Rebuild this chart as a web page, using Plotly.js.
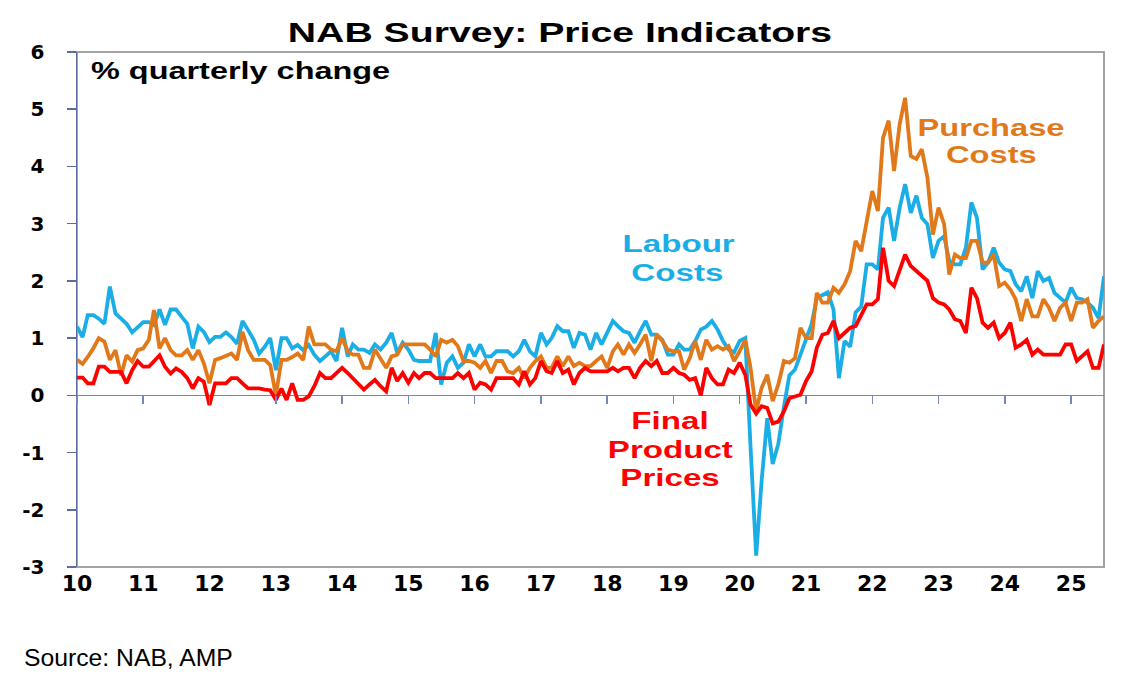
<!DOCTYPE html>
<html>
<head>
<meta charset="utf-8">
<script src="https://cdn.plot.ly/plotly-3.0.1.min.js"></script>
<style>
html, body { margin: 0; padding: 0; background: #ffffff; }
#chart { width: 1141px; height: 682px; }
</style>
</head>
<body>
<div id="chart"></div>
<script>
// ---- Data (monthly, Jan 2010 .. Jul 2025), % quarterly change ----
const startYear = 2010;
const startMonth = 1;

const labourCosts = [
  1.2, 1.02, 1.4, 1.4, 1.34, 1.25, 1.9, 1.43, 1.34, 1.25, 1.1, 1.19,
  1.28, 1.28, 1.23, 1.5, 1.23, 1.5, 1.5, 1.37, 1.25, 0.82, 1.2, 1.11,
  0.93, 1.02, 1.02, 1.1, 1.02, 0.9, 1.3, 1.14, 0.97, 0.73, 0.85, 1.0,
  0.44, 1.0, 1.0, 0.82, 0.88, 0.79, 0.88, 0.71, 0.6, 0.68, 0.77, 0.6,
  1.18, 0.68, 0.89, 0.8, 0.8, 0.74, 0.89, 0.8, 0.92, 1.09, 0.74, 0.92,
  0.8, 0.62, 0.6, 0.6, 0.6, 1.09, 0.19, 0.57, 0.68, 0.48, 0.57, 0.89,
  0.68, 0.89, 0.68, 0.68, 0.77, 0.77, 0.77, 0.68, 0.77, 0.97, 0.77, 0.68,
  1.09, 0.89, 1.0, 1.21, 1.12, 1.12, 0.83, 1.09, 1.06, 0.8, 1.09, 0.89,
  1.09, 1.3, 1.21, 1.12, 1.09, 0.92, 1.12, 1.3, 1.06, 1.06, 0.97, 0.71,
  0.71, 0.89, 0.8, 0.8, 0.95, 1.15, 1.2, 1.3, 1.15, 0.95, 0.8, 0.75,
  0.95, 1.0, -0.9, -2.8, -1.5, -0.4, -1.2, -0.85, -0.2, 0.35, 0.45, 0.7,
  0.95, 1.25, 1.7, 1.75, 1.8, 1.5, 0.3, 0.95, 0.85, 1.45, 1.55, 2.29,
  2.29, 2.2, 3.1, 3.28, 2.7, 3.28, 3.69, 3.19, 3.49, 3.1, 2.99, 2.4,
  2.7, 2.78, 2.35, 2.29, 2.29, 2.58, 3.37, 3.1, 2.2, 2.32, 2.58, 2.32,
  2.2, 2.17, 1.94, 1.82, 2.08, 1.7, 2.17, 2.0, 2.05, 1.79, 1.7, 1.62,
  1.88, 1.7, 1.68, 1.62, 1.53, 1.35, 2.08
];

const purchaseCosts = [
  0.62, 0.55, 0.67, 0.82, 1.0, 0.94, 0.62, 0.79, 0.35, 0.7, 0.59, 0.79,
  0.82, 0.97, 1.49, 0.82, 1.0, 0.79, 0.7, 0.7, 0.79, 0.62, 0.79, 0.56,
  0.21, 0.62, 0.65, 0.7, 0.73, 0.62, 1.11, 0.79, 0.62, 0.62, 0.62, 0.53,
  0.0, 0.62, 0.62, 0.67, 0.73, 0.62, 1.2, 0.89, 0.89, 0.89, 0.8, 0.77,
  1.0, 0.77, 0.71, 0.71, 0.48, 0.48, 0.8, 0.65, 0.48, 0.68, 0.71, 0.89,
  0.89, 0.89, 0.89, 0.89, 0.8, 0.68, 0.97, 0.92, 0.97, 0.86, 0.6, 0.6,
  0.57, 0.48, 0.6, 0.39, 0.6, 0.6, 0.42, 0.39, 0.48, 0.3, 0.48, 0.6,
  0.68, 0.48, 0.48, 0.68, 0.51, 0.68, 0.51, 0.57, 0.51, 0.51, 0.6, 0.68,
  0.48, 0.77, 0.89, 0.71, 0.89, 0.74, 0.89, 1.06, 0.6, 1.06, 0.95, 0.8,
  0.77, 0.77, 0.45, 0.65, 0.95, 0.62, 0.97, 0.8, 0.86, 0.8, 0.86, 0.6,
  0.77, 0.97, 0.48, -0.28, 0.13, 0.36, -0.1, 0.19, 0.6, 0.57, 0.65, 1.18,
  1.0, 1.0, 1.79, 1.62, 1.62, 1.88, 1.79, 1.94, 2.17, 2.7, 2.52, 3.05,
  3.57, 3.22, 4.5, 4.8, 3.92, 4.74, 5.2, 4.18, 4.13, 4.3, 3.8, 2.81,
  3.28, 2.99, 2.11, 2.46, 2.4, 2.4, 2.7, 2.7, 2.32, 2.32, 2.46, 1.91,
  1.97, 1.85, 1.68, 1.3, 1.68, 1.38, 1.38, 1.68, 1.53, 1.3, 1.53, 1.62,
  1.3, 1.62, 1.62, 1.68, 1.18, 1.3, 1.38
];

const finalProductPrices = [
  0.31, 0.31, 0.21, 0.21, 0.5, 0.5, 0.41, 0.41, 0.41, 0.21, 0.44, 0.6,
  0.5, 0.5, 0.59, 0.7, 0.5, 0.38, 0.47, 0.41, 0.3, 0.12, 0.3, 0.24,
  -0.17, 0.21, 0.21, 0.21, 0.3, 0.3, 0.21, 0.12, 0.12, 0.12, 0.1, 0.09,
  -0.08, 0.12, -0.08, 0.21, -0.08, -0.08, -0.02, 0.16, 0.39, 0.3, 0.3, 0.39,
  0.48, 0.39, 0.3, 0.19, 0.1, 0.19, 0.27, 0.16, 0.07, 0.48, 0.25, 0.39,
  0.22, 0.39, 0.3, 0.39, 0.39, 0.3, 0.3, 0.3, 0.3, 0.39, 0.3, 0.39,
  0.1, 0.22, 0.19, 0.1, 0.3, 0.3, 0.3, 0.3, 0.19, 0.42, 0.19, 0.3,
  0.6, 0.42, 0.39, 0.6, 0.39, 0.45, 0.19, 0.39, 0.48, 0.42, 0.42, 0.42,
  0.42, 0.48, 0.42, 0.48, 0.48, 0.3, 0.48, 0.6, 0.51, 0.6, 0.39, 0.39,
  0.48, 0.39, 0.36, 0.27, 0.3, 0.0, 0.48, 0.3, 0.19, 0.19, 0.45, 0.39,
  0.57, 0.36, -0.16, -0.32, -0.19, -0.22, -0.49, -0.46, -0.28, -0.05, -0.02, 0.01,
  0.25, 0.42, 0.83, 1.06, 1.09, 1.3, 1.0, 1.09, 1.18, 1.21, 1.41, 1.59,
  1.59, 1.68, 2.58, 2.0, 1.91, 2.17, 2.46, 2.26, 2.17, 2.08, 2.0, 1.7,
  1.62, 1.59, 1.5, 1.33, 1.3, 1.09, 1.88, 1.7, 1.27, 1.18, 1.27, 1.0,
  1.09, 1.27, 0.83, 0.89, 0.97, 0.71, 0.8, 0.71, 0.71, 0.71, 0.71, 0.89,
  0.89, 0.6, 0.68, 0.77, 0.48, 0.48, 0.89
];

const yearTickLabels = ['10','11','12','13','14','15','16','17','18','19','20','21','22','23','24','25'];
const yTickValues = [-3, -2, -1, 0, 1, 2, 3, 4, 5, 6];
const yTickLabels = ['-3', '-2', '-1', '0', '1', '2', '3', '4', '5', '6'];

// ---- helpers ----
function monthDate(i) {
  const total = (startMonth - 1) + i;
  const y = startYear + Math.floor(total / 12);
  const m = (total % 12) + 1;
  return y + '-' + String(m).padStart(2, '0') + '-01';
}
const months = labourCosts.map((_, i) => monthDate(i));
const yearTickValues = yearTickLabels.map(l => '20' + l + '-01-01');

const BLUE = '#1BADE6';
const ORANGE = '#E1791B';
const RED = '#FF0000';

// plot area in pixels: x 77..1104, y 52..567
const L = 77, R = 1104, T = 52, B = 567;
const px = v => (v - L) / (R - L);
const py = v => (B - v) / (B - T);

const boldFont = 'Liberation Sans, Arial, sans-serif';
const tickFontFam = 'DejaVu Sans, Verdana, sans-serif';
const LW = 3.8;

const traces = [
  { x: months, y: labourCosts, type: 'scatter', mode: 'lines', name: 'Labour Costs',
    line: { color: BLUE, width: LW }, hoverinfo: 'skip' },
  { x: months, y: purchaseCosts, type: 'scatter', mode: 'lines', name: 'Purchase Costs',
    line: { color: ORANGE, width: LW }, hoverinfo: 'skip' },
  { x: months, y: finalProductPrices, type: 'scatter', mode: 'lines', name: 'Final Product Prices',
    line: { color: RED, width: LW }, hoverinfo: 'skip' },
  // carrier for the tick marks drawn on the zero line
  { x: [months[0]], y: [null], type: 'scatter', mode: 'lines', xaxis: 'x2', yaxis: 'y',
    showlegend: false, hoverinfo: 'skip' }
];

const labels = [
  { text: '% quarterly change', x: 89, y: 71, color: '#000000', size: 23, anchor: 'left', stretch: 1.41, fam: boldFont, weight: 'bold' },
  { text: 'Labour', x: 678, y: 243, color: BLUE, size: 24, anchor: 'center', stretch: 1.38, fam: boldFont, weight: 'bold' },
  { text: 'Costs', x: 677, y: 272, color: BLUE, size: 24, anchor: 'center', stretch: 1.38, fam: boldFont, weight: 'bold' },
  { text: 'Purchase', x: 991, y: 127, color: ORANGE, size: 24, anchor: 'center', stretch: 1.36, fam: boldFont, weight: 'bold' },
  { text: 'Costs', x: 991, y: 155, color: ORANGE, size: 24, anchor: 'center', stretch: 1.36, fam: boldFont, weight: 'bold' },
  { text: 'Final', x: 670, y: 420, color: RED, size: 24, anchor: 'center', stretch: 1.38, fam: boldFont, weight: 'bold' },
  { text: 'Product', x: 670, y: 449, color: RED, size: 24, anchor: 'center', stretch: 1.38, fam: boldFont, weight: 'bold' },
  { text: 'Prices', x: 670, y: 478, color: RED, size: 24, anchor: 'center', stretch: 1.38, fam: boldFont, weight: 'bold' },
  { text: 'Source: NAB, AMP', x: 22, y: 657, color: '#000000', size: 24, anchor: 'left', stretch: 1.03, fam: 'Liberation Sans, Arial, sans-serif', weight: 'normal' }
];

const annotations = labels.map(a => ({
  text: a.text, xref: 'paper', yref: 'paper', x: px(a.x), y: py(a.y),
  xanchor: a.anchor, yanchor: 'middle', showarrow: false,
  font: { family: a.fam, size: a.size, color: a.color, weight: a.weight }
}));

const layout = {
  width: 1141, height: 682,
  margin: { l: L, r: 1141 - R, t: T, b: 682 - B, pad: 0 },
  paper_bgcolor: '#ffffff', plot_bgcolor: '#ffffff',
  showlegend: false,
  title: {
    text: 'NAB Survey: Price Indicators',
    font: { family: boldFont, size: 28, weight: 'bold', color: '#000000' },
    x: 560 / 1141, xanchor: 'center', xref: 'container',
    y: 1 - 32 / 682, yanchor: 'middle', yref: 'container'
  },
  xaxis: {
    type: 'date', range: [months[0], months[months.length - 1]],
    tickmode: 'array', tickvals: yearTickValues, ticktext: yearTickLabels,
    ticks: '', showline: false, showgrid: false, zeroline: false,
    tickfont: { family: tickFontFam, size: 22, weight: 'bold', color: '#000000' },
    ticklabelstandoff: 1
  },
  xaxis2: {
    type: 'date', overlaying: 'x', anchor: 'free', position: 3 / 9, side: 'bottom',
    range: [months[0], months[months.length - 1]],
    tickmode: 'array', tickvals: yearTickValues,
    ticks: 'outside', ticklen: 8, tickwidth: 1.5, tickcolor: '#7487bd',
    showticklabels: false, showline: false, showgrid: false, zeroline: false
  },
  yaxis: {
    range: [-3, 6], tickmode: 'array', tickvals: yTickValues, ticktext: yTickLabels,
    ticks: 'outside', ticklen: 9, tickwidth: 1.5, tickcolor: '#5a6ca2',
    showline: true, linecolor: '#5a6ca2', linewidth: 1.5,
    showgrid: false, zeroline: true, zerolinecolor: '#7487bd', zerolinewidth: 1.5,
    tickfont: { family: tickFontFam, size: 20, weight: 'bold', color: '#000000' },
    ticklabelstandoff: 18
  },
  shapes: [
    { type: 'rect', xref: 'paper', yref: 'paper', x0: 0, x1: 1, y0: 0, y1: 1,
      line: { color: '#a3a3a3', width: 2 }, fillcolor: 'rgba(0,0,0,0)', layer: 'below' }
  ],
  annotations: annotations
};

function stretchText(gd) {
  gd.querySelectorAll('g.annotation').forEach(g => {
    const idx = +g.getAttribute('data-index');
    const lab = labels[idx];
    if (!lab || lab.stretch === 1) return;
    const t = g.querySelector('text.annotation-text');
    if (!t) return;
    const bb = t.getBBox();
    const cx = lab.anchor === 'left' ? bb.x : bb.x + bb.width / 2;
    const prev = t.getAttribute('transform') || '';
    t.setAttribute('transform', prev + ' translate(' + cx + ',0) scale(' + lab.stretch + ',1) translate(' + (-cx) + ',0)');
  });
  const tt = gd.querySelector('.gtitle');
  if (tt) {
    const bb = tt.getBBox();
    const cx = bb.x + bb.width / 2;
    const prev = tt.getAttribute('transform') || '';
    tt.setAttribute('transform', prev + ' translate(' + cx + ',0) scale(1.4,1) translate(' + (-cx) + ',0)');
  }
}

const gd = document.getElementById('chart');
Plotly.newPlot(gd, traces, layout, { staticPlot: true, displayModeBar: false }).then(() => stretchText(gd));
</script>
</body>
</html>
